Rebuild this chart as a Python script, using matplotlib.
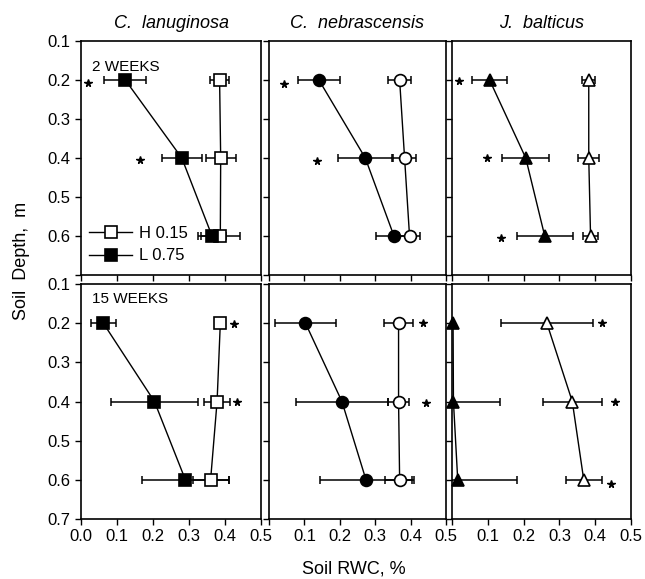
import matplotlib.pyplot as plt

plt.rcParams['font.family'] = ['Liberation Sans', 'DejaVu Sans']

depth = [0.2, 0.4, 0.6]
species = ["C.  lanuginosa", "C.  nebrascensis", "J.  balticus"]
markers = ["s", "o", "^"]
weeks = ["2 WEEKS", "15 WEEKS"]

# soil RWC, 2 weeks (one row per species, values at 0.2, 0.4, 0.6 m)
h2_mean = [[0.385, 0.388, 0.387], [0.369, 0.383, 0.397], [0.382, 0.382, 0.387]]
h2_err = [[0.027, 0.042, 0.055], [0.032, 0.032, 0.030], [0.018, 0.030, 0.020]]
l2_mean = [[0.123, 0.280, 0.364], [0.141, 0.272, 0.353], [0.105, 0.206, 0.259]]
l2_err = [[0.058, 0.055, 0.040], [0.060, 0.076, 0.050], [0.050, 0.065, 0.078]]

# soil RWC, 15 weeks
h15_mean = [[0.387, 0.378, 0.360], [0.366, 0.366, 0.369], [0.265, 0.336, 0.368]]
h15_err = [[0.008, 0.035, 0.050], [0.040, 0.030, 0.040], [0.128, 0.083, 0.050]]
l15_mean = [[0.062, 0.204, 0.290], [0.103, 0.206, 0.274], [0.003, 0.004, 0.016]]
l15_err = [[0.035, 0.120, 0.120], [0.085, 0.130, 0.130], [0.000, 0.130, 0.165]]

# significance stars
star2_x = [[0.020, 0.165], [0.042, 0.135], [0.019, 0.098, 0.136]]
star2_y = [[0.208, 0.405], [0.210, 0.407], [0.202, 0.400, 0.606]]
star15_x = [[0.425, 0.433], [0.435, 0.444], [0.420, 0.455, 0.445]]
star15_y = [[0.203, 0.400], [0.200, 0.405], [0.200, 0.400, 0.610]]

yticks = [0.1, 0.2, 0.3, 0.4, 0.5, 0.6, 0.7]
xticks = [0.0, 0.1, 0.2, 0.3, 0.4, 0.5]

fig = plt.figure(figsize=(6.45, 5.79), dpi=100)

col_left = [81 / 645, 269 / 645, 452 / 645]
col_width = [180 / 645, 177 / 645, 179 / 645]
row_bottom = [1 - 275 / 579, 1 - 519 / 579]
row_height = [234 / 579, 235 / 579]

data = [
    (h2_mean, h2_err, l2_mean, l2_err, star2_x, star2_y),
    (h15_mean, h15_err, l15_mean, l15_err, star15_x, star15_y),
]

for r in range(2):
    hm, he, lm, le, sx, sy = data[r]
    for c in range(3):
        ax = fig.add_axes([col_left[c], row_bottom[r], col_width[c], row_height[r]])
        mk = markers[c]
        # error bars (clipped at panel edges)
        ax.errorbar(hm[c], depth, xerr=he[c], fmt="none", ecolor="black",
                    elinewidth=1.1, capsize=3, capthick=1.1)
        ax.errorbar(lm[c], depth, xerr=le[c], fmt="none", ecolor="black",
                    elinewidth=1.1, capsize=3, capthick=1.1)
        ax.plot(hm[c], depth, color="black", lw=1, marker=mk, ms=8.5,
                mfc="white", mec="black", mew=1.2, clip_on=False, zorder=4,
                label="H 0.15")
        ax.plot(lm[c], depth, color="black", lw=1, marker=mk, ms=8.5,
                mfc="black", mec="black", mew=1.2, clip_on=False, zorder=4,
                label="L 0.75")
        ax.plot(sx[c], sy[c], ls="none", marker="*", ms=5.5, color="black")

        ax.set_xlim(0, 0.5)
        ax.set_ylim(0.7, 0.1)
        ax.set_xticks(xticks)
        ax.set_yticks(yticks)
        ax.tick_params(direction="out", length=4, width=1, labelsize=12)
        for sp in ax.spines.values():
            sp.set_linewidth(1.2)

        if c == 0:
            if r == 0:
                ax.set_yticklabels(["0.1", "0.2", "0.3", "0.4", "0.5", "0.6", ""])
            else:
                ax.set_yticklabels(["0.1", "0.2", "0.3", "0.4", "0.5", "0.6", "0.7"])
            ax.text(0.06, 0.89 if r == 0 else 0.935, weeks[r], transform=ax.transAxes,
                    fontsize=11, va="center", ha="left")
        else:
            ax.set_yticklabels([])

        if r == 0:
            ax.set_xticklabels([])
            ax.set_title(species[c], fontsize=13, style="italic", pad=9)
        else:
            if c == 0:
                ax.set_xticklabels(["0.0", "0.1", "0.2", "0.3", "0.4", "0.5"])
            else:
                ax.set_xticklabels(["", "0.1", "0.2", "0.3", "0.4", "0.5"])

        if r == 0 and c == 0:
            ax.legend(loc="lower left", bbox_to_anchor=(-0.02, 0.0), frameon=False,
                      fontsize=12, handlelength=2.6, handletextpad=0.4,
                      labelspacing=0.45, borderaxespad=0.3)

fig.text(0.033, 0.549, "Soil  Depth,  m", rotation=90, ha="center", va="center",
         fontsize=13)
fig.text(0.548, 0.017, "Soil RWC, %", ha="center", va="center", fontsize=13)

fig.savefig("out.png", dpi=100)
